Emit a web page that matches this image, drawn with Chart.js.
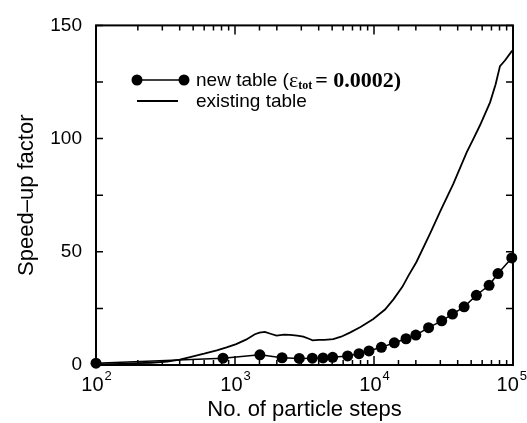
<!DOCTYPE html>
<html>
<head>
<meta charset="utf-8">
<script src="https://cdn.jsdelivr.net/npm/chart.js@4.4.1/dist/chart.umd.min.js"></script>
<style>
  html, body { margin: 0; padding: 0; background: #fff; }
  #wrap { width: 527px; height: 423px; }
</style>
</head>
<body>
<div id="wrap"><canvas id="myChart" width="527" height="423"></canvas></div>
<script>
// existing table (plain line)
const existingSteps   = [100, 150, 200, 250, 325, 400, 475, 600, 740, 870, 1020, 1200, 1390, 1500, 1640, 1800, 1990, 2250, 2490, 2800, 3100, 3400, 3620, 4000, 4400, 5090, 5800, 6710, 8000, 9890, 12000, 13800, 16000, 17700, 20200, 25300, 30000, 37200, 46500, 52000, 58000, 68400, 75000, 80600, 87500, 97700, 100000];
const existingSpeedup = [0.3, 0.5, 0.8, 1.0, 1.5, 2.4, 3.5, 5.0, 6.5, 7.8, 9.2, 11.2, 13.6, 14.3, 14.6, 13.8, 13.0, 13.4, 13.3, 13.0, 12.5, 11.6, 10.9, 11.1, 11.1, 11.4, 12.5, 14.3, 16.8, 20.3, 24.5, 29.0, 34.5, 39.5, 45.5, 58.0, 68.0, 80.0, 94.0, 100.0, 106.0, 116.0, 124.0, 132.0, 134.5, 138.5, 139.0];

// new table (line with dots)
const newSteps   = [100, 820, 1510, 2180, 2900, 3600, 4300, 5040, 6460, 7800, 9200, 11300, 14000, 17000, 20000, 24700, 30700, 36700, 44500, 54500, 67300, 78000, 98000];
const newSpeedup = [0.8, 3.0, 4.5, 3.2, 2.9, 3.0, 3.1, 3.4, 4.0, 5.0, 6.2, 7.8, 9.8, 11.6, 13.2, 16.5, 19.5, 22.5, 25.7, 30.8, 35.2, 40.4, 47.3];

const yLabels = [0, 50, 100, 150];
const xDecades = [2, 3, 4, 5];

const sans = '"Liberation Sans", Arial, Helvetica, sans-serif';
const serif = '"Liberation Serif", "Times New Roman", serif';

function pts(xs, ys) {
  return xs.map((x, i) => ({x: x, y: ys[i]}));
}

// inward ticks, frame, decade labels, legend
const decor = {
  id: 'decor',
  afterDraw(chart) {
    const ctx = chart.ctx;
    const a = chart.chartArea;
    const x = chart.scales.x, y = chart.scales.y;
    ctx.save();
    ctx.strokeStyle = '#000';
    ctx.fillStyle = '#000';
    ctx.lineWidth = 1.5;
    ctx.beginPath();
    x.ticks.forEach(t => {
      const px = x.getPixelForValue(t.value);
      const lg = Math.log10(t.value);
      const len = Math.abs(lg - Math.round(lg)) < 1e-6 ? 9 : 5;
      ctx.moveTo(px, a.bottom); ctx.lineTo(px, a.bottom - len);
      ctx.moveTo(px, a.top); ctx.lineTo(px, a.top + len);
    });
    y.ticks.forEach(t => {
      const py = y.getPixelForValue(t.value);
      ctx.moveTo(a.left, py); ctx.lineTo(a.left + 7, py);
      ctx.moveTo(a.right, py); ctx.lineTo(a.right - 7, py);
    });
    ctx.stroke();
    ctx.lineWidth = 2;
    ctx.strokeRect(a.left, a.top, a.right - a.left, a.bottom - a.top);

    // x labels 10^n
    xDecades.forEach(n => {
      const px = x.getPixelForValue(Math.pow(10, n));
      ctx.font = '20px ' + sans;
      const w1 = ctx.measureText('10').width;
      ctx.font = '13px ' + sans;
      const w2 = ctx.measureText(String(n)).width;
      let left = px - (w1 + w2) / 2;
      if (left + w1 + w2 > chart.width - 1) left = chart.width - 1 - w1 - w2;
      ctx.textBaseline = 'alphabetic';
      ctx.textAlign = 'left';
      ctx.font = '20px ' + sans;
      ctx.fillText('10', left, a.bottom + 26);
      ctx.font = '13px ' + sans;
      ctx.fillText(String(n), left + w1 + 1, a.bottom + 15);
    });

    // legend
    const r1 = 80, r2 = 101;
    ctx.lineWidth = 1.5;
    ctx.beginPath(); ctx.moveTo(137, r1); ctx.lineTo(184, r1); ctx.stroke();
    [137, 184].forEach(cx => { ctx.beginPath(); ctx.arc(cx, r1, 5.5, 0, Math.PI * 2); ctx.fill(); });
    ctx.lineWidth = 2;
    ctx.beginPath(); ctx.moveTo(137, r2); ctx.lineTo(178, r2); ctx.stroke();

    ctx.textBaseline = 'middle';
    ctx.textAlign = 'left';
    let tx = 196;
    ctx.font = '19px ' + sans;
    ctx.fillText('new table (', tx, r1 + 1);
    tx += ctx.measureText('new table (').width;
    ctx.font = '22px ' + serif;
    ctx.fillText('\u03b5', tx, r1 + 1);
    tx += ctx.measureText('\u03b5').width;
    ctx.font = 'bold 12px ' + serif;
    ctx.fillText('tot', tx, r1 + 6);
    tx += ctx.measureText('tot').width + 3;
    ctx.font = 'bold 22px ' + serif;
    ctx.fillText('= 0.0002)', tx, r1 + 1);

    ctx.font = '19px ' + sans;
    ctx.fillText('existing table', 196, r2 + 1);
    ctx.restore();
  }
};

var ctx = document.getElementById('myChart').getContext('2d');

var myChart = new Chart(ctx, {
  type: 'scatter',
  data: {
    datasets: [{
      label: 'new table',
      data: pts(newSteps, newSpeedup),
      showLine: true,
      borderColor: '#000',
      backgroundColor: '#000',
      borderWidth: 1.5,
      pointRadius: 5.5,
      pointHoverRadius: 5.5,
      pointBorderWidth: 0,
      clip: false
    }, {
      label: 'existing table',
      data: pts(existingSteps, existingSpeedup),
      showLine: true,
      borderColor: '#000',
      backgroundColor: '#000',
      borderWidth: 1.8,
      pointRadius: 0,
      clip: false
    }]
  },
  options: {
    responsive: false,
    animation: false,
    events: [],
    layout: { padding: { top: 20, right: 14, left: 0, bottom: 0 } },
    plugins: {
      legend: { display: false },
      tooltip: { enabled: false }
    },
    scales: {
      x: {
        type: 'logarithmic',
        min: 100,
        max: 100000,
        grid: { display: false, drawTicks: false },
        border: { display: false },
        ticks: { display: false },
        title: {
          display: true,
          text: 'No. of particle steps',
          color: '#000',
          font: { family: sans, size: 22 },
          padding: { top: 0, bottom: 0 }
        },
        afterFit(scale) { scale.height = 58; }
      },
      y: {
        min: 0,
        max: 150,
        grid: { display: false, drawTicks: false },
        border: { display: false },
        ticks: {
          stepSize: 25,
          padding: 14,
          color: '#000',
          font: { family: sans, size: 19 },
          callback: v => (yLabels.indexOf(v) !== -1 ? v : '')
        },
        title: {
          display: true,
          text: 'Speed\u2013up factor',
          color: '#000',
          font: { family: sans, size: 22 },
          padding: { top: 14, bottom: 0 }
        },
        afterFit(scale) { scale.width = 96; }
      }
    }
  },
  plugins: [decor]
});
</script>
</body>
</html>
